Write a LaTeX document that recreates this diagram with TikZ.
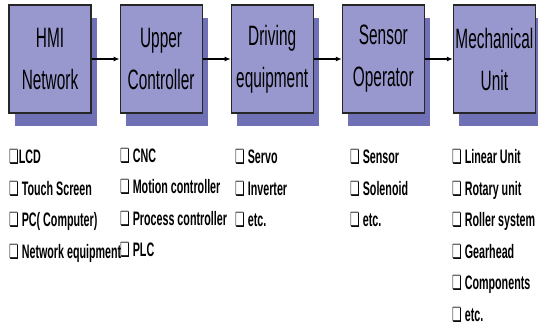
\documentclass[tikz,border=0pt]{standalone}
\usepackage{fontspec}
\setmainfont{Liberation Sans}[FakeStretch=0.55]
\newfontfamily\chkfont{DejaVu Sans}[FakeStretch=0.55]
\usetikzlibrary{arrows.meta,positioning,shadows}

\definecolor{unitfill}{RGB}{152,152,206}
\definecolor{unitshade}{RGB}{112,112,182}
\newcommand{\chk}{{\chkfont\char"274F}}

\begin{document}
\begin{tikzpicture}[x=1pt, y=-1pt,
  unit/.style={draw=black!85, line width=1.1pt, fill=unitfill, minimum width=82pt, minimum height=108pt, inner sep=0pt, align=center, font=\fontsize{28}{42}\selectfont,
    drop shadow={shadow xshift=6pt, shadow yshift=-13pt, fill=unitshade, opacity=1}},
  % base anchor of a list sits on its last line
  items/.style={anchor=base west, align=left, inner sep=0pt, font=\bfseries\fontsize{19.5}{31.5}\selectfont},
  arr/.style={-{Latex[length=6pt,width=5pt]}, line width=1.1pt}
]
\useasboundingbox (0,0) rectangle (538,328);

% chain of units
\node[unit] (hmi) at (50,59) {HMI\\Network};
\node[unit, right=28pt of hmi] (upper) {Upper\\Controller};
\node[unit, right=28pt of upper] (driving) {Driving\\equipment};
\node[unit, right=28pt of driving] (sensor) {Sensor\\Operator};
\node[unit, right=28pt of sensor] (mech) {Mechanical\\Unit};

\draw[arr] (hmi) -- (upper);
\draw[arr] (upper) -- (driving);
\draw[arr] (driving) -- (sensor);
\draw[arr] (sensor) -- (mech);

% what belongs to each unit
\node[items] (hmilist) at (9,258.5) {\chk LCD\\ \chk{} Touch Screen\\ \chk{} PC( Computer)\\ \chk{} Network equipment};
\node[items] (upperlist) at (120,257) {\chk{} CNC\\ \chk{} Motion controller\\ \chk{} Process controller\\ \chk{} PLC};
\node[items] (drivinglist) at (235,227) {\chk{} Servo\\ \chk{} Inverter\\ \chk{} etc.};
\node[items] (sensorlist) at (350,227) {\chk{} Sensor\\ \chk{} Solenoid\\ \chk{} etc.};
\node[items] (mechlist) at (452,321.5) {\chk{} Linear Unit\\ \chk{} Rotary unit\\ \chk{} Roller system\\ \chk{} Gearhead\\ \chk{} Components\\ \chk{} etc.};

\end{tikzpicture}
\end{document}
